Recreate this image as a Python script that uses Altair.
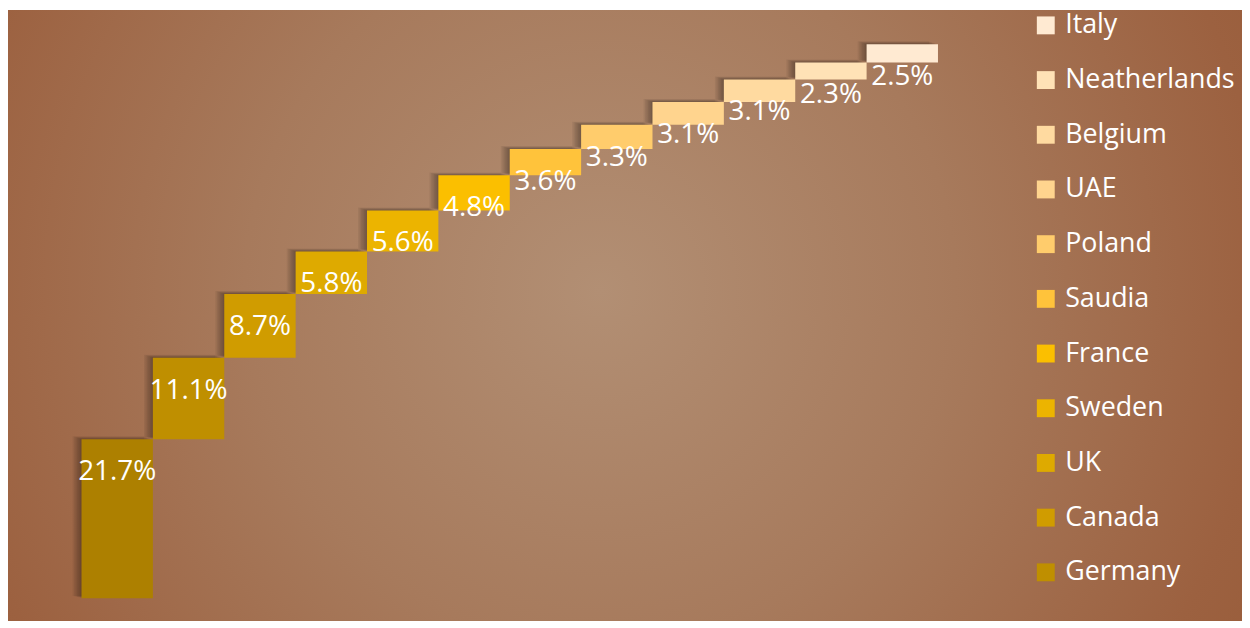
import altair as alt
import pandas as pd

# ---- data ----
countries = ["USA", "Germany", "Canada", "UK", "Sweden", "France", "Saudia",
             "Poland", "UAE", "Belgium", "Neatherlands", "Italy"]
shares = [21.7, 11.1, 8.7, 5.8, 5.6, 4.8, 3.6, 3.3, 3.1, 3.1, 2.3, 2.5]
colors = ["#ad8000", "#bf8f00", "#d09c00", "#deaa00", "#ecb400", "#fbbf00",
          "#ffc33b", "#ffcc6c", "#ffd48e", "#ffdaa0", "#ffe2b6", "#ffead2"]
legend_names = countries[1:][::-1]
labels = [f"{v:.1f}%" for v in shares]

df = pd.DataFrame({"country": countries, "share": shares,
                   "rank": list(range(len(countries))), "label": labels})

W, H = 1242, 615

base = alt.Chart(df).transform_window(
    end="sum(share)", sort=[alt.SortField("rank")], frame=[None, 0]
).transform_calculate(start="datum.end - datum.share")

x_enc = alt.X("country:N", sort=countries,
              scale=alt.Scale(range=[74, 936], paddingInner=0, paddingOuter=0),
              axis=None)
y_enc = alt.Y("end:Q", scale=alt.Scale(domain=[0, 80], range=[592, 2]), axis=None)
y2_enc = alt.Y2("start:Q")

color_enc = alt.Color(
    "country:N",
    scale=alt.Scale(domain=countries[::-1], range=colors[::-1]),
    legend=alt.Legend(
        values=legend_names, orient="none", legendX=1031, legendY=2,
        symbolType="square", symbolSize=324, symbolStrokeWidth=0,
        labelFont="Open Sans", labelFontSize=27, labelColor="white",
        labelOffset=6, rowPadding=27.05, padding=0, title=None, labelLimit=0,
    ),
)

bg = alt.Chart(pd.DataFrame({"a": [0]})).mark_rect(
    color=alt.Gradient(
        gradient="radial", x1=0.48, y1=0.48, r1=0, x2=0.48, y2=0.48, r2=0.72,
        stops=[alt.GradientStop(offset=0, color="#b28f74"),
               alt.GradientStop(offset=0.4, color="#a77a5c"),
               alt.GradientStop(offset=0.75, color="#9c6140"),
               alt.GradientStop(offset=1, color="#955834")],
    )
).encode(x=alt.value(0), x2=alt.value(W), y=alt.value(0), y2=alt.value(H))

shadows = [
    base.mark_bar(color="black", opacity=0.06, xOffset=-k, yOffset=-k / 3,
                  y2Offset=-k / 4).encode(x=x_enc, y=y_enc, y2=y2_enc)
    for k in (1.5, 3, 4.5, 6, 7.5, 9)
]

bars = base.mark_bar().encode(x=x_enc, y=y_enc, y2=y2_enc, color=color_enc)

text = base.mark_text(font="Open Sans", fontSize=28, color="white",
                      baseline="middle", dy=33).encode(
    x=x_enc, y=y_enc, text="label:N")

chart = alt.layer(bg, *shadows, bars, text).properties(
    width=W, height=H, autosize="none", padding=0
).configure_view(stroke=None)

chart.save("out.html", embed_options={"renderer": "svg", "actions": False})
